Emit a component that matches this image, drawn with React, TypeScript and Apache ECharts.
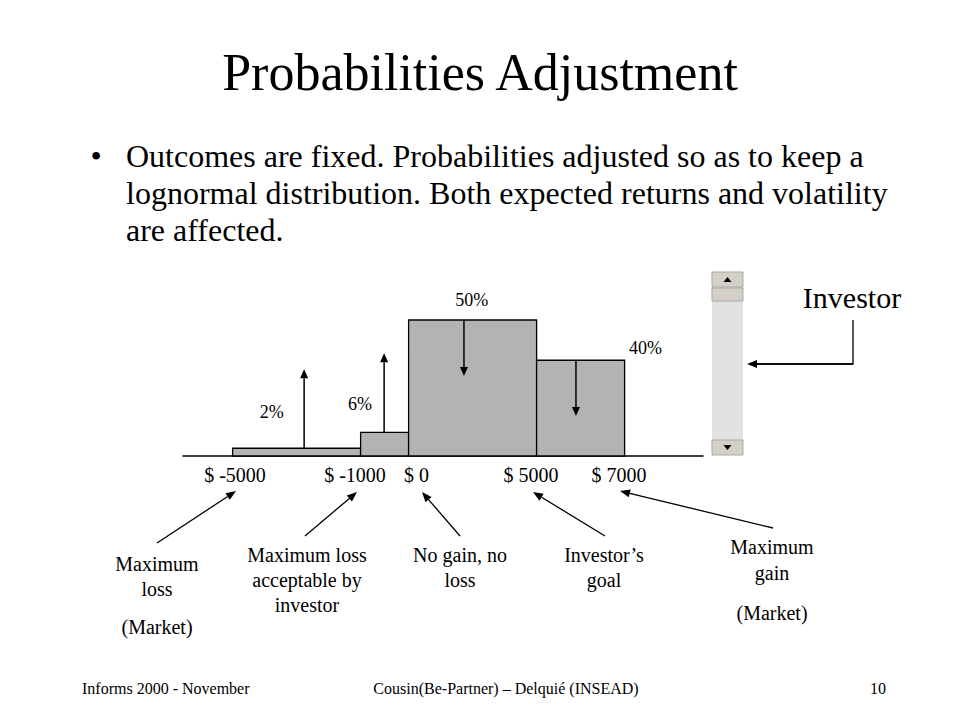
import React, { useEffect, useRef } from "react";
import * as echarts from "echarts";

// ---- data ----
const binStart = [0, 8, 11, 19];
const binEnd = [8, 11, 19, 24.5];
const barHeights = [5.7, 17.4, 100, 70.4];
const arrowX = [4.47, 9.47, 14.46, 21.46];
const arrowTo = [63.8, 75.5, 58.8, 29.4];
const probLabels = ["2%", "6%", "50%", "40%"];
const probLabelX = [2.44, 7.96, 14.94, 25.8];
const probLabelY = [32.6, 38.0, 114.7, 79.4];
const tickPositions = [0.15, 7.65, 11.5, 18.65, 24.15];
const tickLabels = ["$ -5000", "$ -1000", "$ 0", "$ 5000", "$ 7000"];

const SERIF = "'Liberation Serif', 'Times New Roman', serif";

function arrow(x1: number, y1: number, x2: number, y2: number, len = 10, half = 4, lw = 1.3) {
  const dx = x2 - x1;
  const dy = y2 - y1;
  const d = Math.sqrt(dx * dx + dy * dy) || 1;
  const ux = dx / d;
  const uy = dy / d;
  const bx = x2 - ux * len;
  const by = y2 - uy * len;
  const px = -uy * half;
  const py = ux * half;
  return [
    { type: "line", silent: true, shape: { x1, y1, x2: bx, y2: by }, style: { stroke: "#000", lineWidth: lw } },
    {
      type: "polygon",
      silent: true,
      shape: { points: [[x2, y2], [bx + px, by + py], [bx - px, by - py]] },
      style: { fill: "#000" },
    },
  ];
}

function txt(text: string, x: number, y: number, size: number, align = "center", lineHeight?: number) {
  return {
    type: "text",
    silent: true,
    x,
    y,
    style: {
      text,
      fill: "#000",
      fontSize: size,
      fontFamily: SERIF,
      textAlign: align,
      textVerticalAlign: "middle",
      align,
      verticalAlign: "middle",
      lineHeight: lineHeight || size * 1.2,
    },
  };
}

export default function App() {
  const ref = useRef<HTMLDivElement>(null);

  useEffect(() => {
    document.body.style.margin = "0";
    if (!ref.current) return;
    const chart = echarts.init(ref.current, null, { renderer: "svg" });

    const barData = binStart.map((s, i) => [s, binEnd[i], barHeights[i]]);
    const arrowData = arrowX.map((x, i) => [x, barHeights[i], arrowTo[i]]);
    const labelData = probLabelX.map((x, i) => [x, probLabelY[i], i]);

    const graphic: any[] = [
      txt("Probabilities Adjustment", 480, 72, 52),
      txt("•", 96, 156, 32),
      txt("Outcomes are fixed. Probabilities adjusted so as to keep a", 126, 156, 32, "left"),
      txt("lognormal distribution. Both expected returns and volatility", 126, 193, 32, "left"),
      txt("are affected.", 126, 230, 32, "left"),
      // annotations
      txt("Maximum\nloss", 157, 576, 20, "center", 25),
      txt("(Market)", 157, 627, 20),
      txt("Maximum loss\nacceptable by\ninvestor", 307, 580, 20, "center", 25),
      txt("No gain, no\nloss", 460, 567, 20, "center", 25),
      txt("Investor\u2019s\ngoal", 604, 567, 20, "center", 25),
      txt("Maximum\ngain", 772, 560, 20, "center", 26),
      txt("(Market)", 772, 613, 20),
      ...arrow(157, 543, 236, 491),
      ...arrow(305, 536, 357, 492),
      ...arrow(460, 536, 422, 492),
      ...arrow(605, 536, 533, 492),
      ...arrow(773, 528, 620, 491),
      // scrollbar
      { type: "rect", silent: true, shape: { x: 712, y: 272, width: 31, height: 183 }, style: { fill: "#e2e2e2" } },
      { type: "rect", silent: true, shape: { x: 712, y: 272, width: 31, height: 15 }, style: { fill: "#d4d0c8", stroke: "#a8a8a8", lineWidth: 1 } },
      { type: "rect", silent: true, shape: { x: 712, y: 288, width: 31, height: 13 }, style: { fill: "#d4d0c8", stroke: "#a8a8a8", lineWidth: 1 } },
      { type: "rect", silent: true, shape: { x: 712, y: 440, width: 31, height: 15 }, style: { fill: "#d4d0c8", stroke: "#a8a8a8", lineWidth: 1 } },
      { type: "polygon", silent: true, shape: { points: [[727.5, 277], [723.5, 282], [731.5, 282]] }, style: { fill: "#000" } },
      { type: "polygon", silent: true, shape: { points: [[727.5, 450], [723.5, 445], [731.5, 445]] }, style: { fill: "#000" } },
      // investor
      txt("Investor", 852, 297, 30),
      { type: "polyline", silent: true, shape: { points: [[853, 320], [853, 364], [757, 364]] }, style: { stroke: "#000", lineWidth: 1.3, fill: null } },
      ...arrow(853, 364, 747, 364),
      // footer
      txt("Informs 2000 - November", 82, 688, 16, "left"),
      txt("Cousin(Be-Partner) \u2013 Delqui\u00e9 (INSEAD)", 506, 688, 16),
      txt("10", 878, 688, 16),
    ];

    chart.setOption({
      animation: false,
      backgroundColor: "#fff",
      grid: { left: 183, width: 520, top: 320, height: 136, containLabel: false },
      xAxis: {
        type: "value",
        min: -3.1,
        max: 29.4,
        axisLine: { show: true, lineStyle: { color: "#000", width: 1.5 } },
        axisTick: { show: false },
        splitLine: { show: false },
        axisLabel: {
          customValues: tickPositions,
          color: "#000",
          fontSize: 20,
          fontFamily: SERIF,
          margin: 9,
          formatter: (v: number) => {
            const i = tickPositions.findIndex((p) => Math.abs(p - v) < 1e-6);
            return i >= 0 ? tickLabels[i] : "";
          },
        },
      },
      yAxis: { type: "value", min: 0, max: 100, show: false },
      series: [
        {
          type: "custom",
          clip: false,
          silent: true,
          data: barData,
          encode: { x: [0, 1], y: 2 },
          renderItem: (params: any, api: any) => {
            const s = api.coord([api.value(0), 0]);
            const e = api.coord([api.value(1), api.value(2)]);
            return {
              type: "rect",
              shape: { x: s[0], y: e[1], width: e[0] - s[0], height: s[1] - e[1] },
              style: { fill: "#b3b3b3", stroke: "#000", lineWidth: 1.3 },
            };
          },
        },
        {
          type: "custom",
          clip: false,
          silent: true,
          data: arrowData,
          encode: { x: 0, y: [1, 2] },
          renderItem: (params: any, api: any) => {
            const p1 = api.coord([api.value(0), api.value(1)]);
            const p2 = api.coord([api.value(0), api.value(2)]);
            return { type: "group", children: arrow(p1[0], p1[1], p2[0], p2[1], 9, 4, 1.5) };
          },
        },
        {
          type: "custom",
          clip: false,
          silent: true,
          data: labelData,
          encode: { x: 0, y: 1 },
          renderItem: (params: any, api: any) => {
            const p = api.coord([api.value(0), api.value(1)]);
            const t: any = txt(probLabels[api.value(2)], p[0], p[1], 18);
            return t;
          },
        },
      ],
      graphic,
    });

    return () => chart.dispose();
  }, []);

  return <div ref={ref} style={{ width: 960, height: 720 }} />;
}
